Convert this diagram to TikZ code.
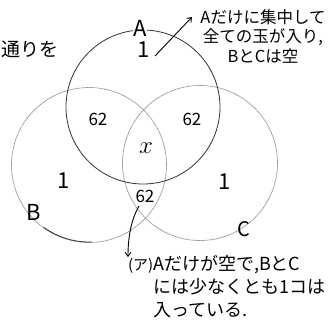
\documentclass[tikz,border=0pt]{standalone}
\usepackage{fontspec}
\newfontfamily\jp{Noto Sans CJK JP}
\usetikzlibrary{arrows.meta}
\begin{document}
\begin{tikzpicture}[x=1pt,y=-1pt,
  ringA/.style={circle, draw=black!80, line width=0.8pt, minimum size=154pt, inner sep=0pt},
  ringBC/.style={circle, draw=black!45, line width=0.7pt, dash pattern=on 1.2pt off 0.5pt, minimum size=155pt, inner sep=0pt},
  lbl/.style={font=\jp\fontsize{22}{22}\selectfont, inner sep=1pt},
  num/.style={font=\jp\fontsize{17}{17}\selectfont, inner sep=1pt},
  note/.style={font=\jp\fontsize{16.5}{19.5}\selectfont, inner sep=0pt},
  arr/.style={black, line width=0.9pt, -{Straight Barb[length=4pt,width=6pt]}}
]
\useasboundingbox (0,0) rectangle (333,325);
\fill[white] (0,0) rectangle (333,325);

% circles
\node[ringBC] (cB) at (89,165) {};
\node[ringBC] (cC) at (200,163) {};
\node[ringA] (cA) at (143,107) {};
\draw[black!80, line width=0.8pt] plot[domain=88:126, samples=20, smooth] ({89+77*cos(\x)},{165+77*sin(\x)});

% labels
\node[lbl, fill=white, inner sep=0pt] (lA) at (140,28) {A};
\node[lbl] (oneA) at (144,50) {1};
\node[lbl] (lB) at (34,212) {B};
\node[lbl, font=\jp\fontsize{20}{20}\selectfont] (lC) at (244,229) {C};
\node[lbl] (oneB) at (64,181) {1};
\node[lbl] (oneC) at (225,182) {1};
\node[num] (nAB) at (98,119) {62};
\node[num] (nAC) at (192,119) {62};
\node[num] (nBC) at (145,196) {62};
\node[font=\fontsize{28}{28}\selectfont, inner sep=0pt] (nx) at (146,148) {$x$};

% side text
\node[font=\jp\fontsize{19}{19}\selectfont, anchor=west, inner sep=0pt] (side) at (1,49) {通りを};

% notes
\node[note, align=center] (topnote) at (263,36) {Aだけに集中して\\全ての玉が入り,\\BとCは空};
\node[font=\jp\fontsize{18}{23}\selectfont, align=left, anchor=north west, inner sep=0pt] (botnote) at (153,255)
  {\llap{{\fontsize{15}{15}\selectfont(ア)}}Aだけが空で,BとC\\には少なくとも1コは\\入っている.};

% arrows
\coordinate (tA) at (192,17);
\coordinate (sA) at (155,56);
\draw[arr] (sA) -- (tA);
\coordinate (sB) at (139,206);
\coordinate (tB) at (128,257);
\draw[arr] (sB) .. controls (132,218) and (128,235) .. (tB);
\end{tikzpicture}
\end{document}
